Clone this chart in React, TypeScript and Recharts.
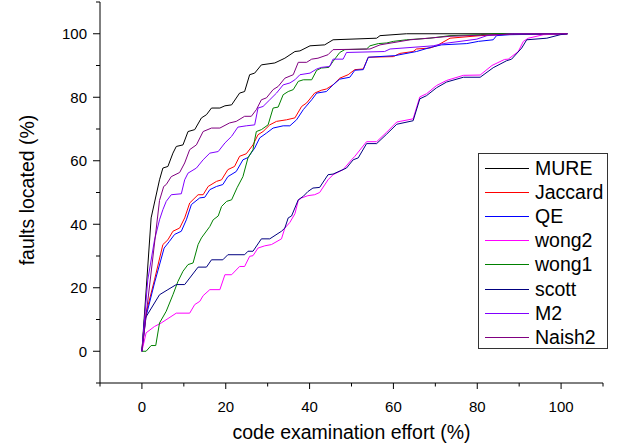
import React from 'react';
import { LineChart, Line, XAxis, YAxis, Legend, Label } from 'recharts';

const X_TICKS = [-10, 0, 10, 20, 30, 40, 50, 60, 70, 80, 90, 100, 110];
const Y_TICKS = [-10, 0, 10, 20, 30, 40, 50, 60, 70, 80, 90, 100, 110];
const LABELED = [0, 20, 40, 60, 80, 100];

const MURE_X = [0, 2.2, 4.2, 5.0, 6.2, 7.4, 8.2, 9.8, 11, 12.6, 14.2, 15.4, 16.6, 18.6, 19.8, 21.4, 23.3, 24.5, 25.7, 26.9, 28.5, 31.7, 34.1, 36.5, 37.7, 40.1, 43.6, 45.6, 56, 56.8, 63.1, 101.5];
const MURE_Y = [0, 42, 54, 57.7, 58.2, 62.4, 64.5, 65, 69.2, 69.8, 73.5, 74.5, 76.6, 76.6, 77.3, 77.6, 81.3, 81.8, 87.1, 87.6, 90.2, 90.8, 92.3, 94.4, 94.6, 96.2, 96.5, 98.1, 98.6, 99.4, 100, 100];

const JACCARD_X = [0, 1, 3, 5, 6.2, 7.4, 9, 10.2, 11.4, 13.4, 14.6, 15.8, 17.8, 19, 20.5, 22.1, 23.3, 24.9, 26.5, 27.7, 28.9, 30.5, 32.1, 34.5, 36.5, 38.1, 39.3, 41.2, 42.8, 44, 45.6, 47.2, 49.2, 50.8, 52.8, 54, 60, 61.5, 64.7, 65.5, 68.7, 70.3, 73.5, 80.7, 87, 101.5];
const JACCARD_Y = [0, 12, 22.5, 33.6, 35.1, 37.8, 38.8, 42, 46.7, 49.3, 49.3, 51.9, 53.5, 54, 57.2, 58.2, 61.4, 62.2, 65, 68.2, 69.2, 71.3, 72.4, 72.9, 73.5, 77.1, 78.2, 81.3, 82.2, 82.6, 83.9, 86, 87.1, 88.7, 88.9, 92.6, 92.8, 93.8, 94.4, 95.2, 95.5, 96.2, 98.6, 99.4, 99.8, 100];

const QE_X = [0, 1, 3, 5.3, 6.5, 7.8, 9.4, 10.6, 11.8, 13.8, 15, 16.2, 17.8, 19.3, 20.5, 22.5, 24.1, 25.3, 26.9, 28.1, 29.7, 31.3, 33.7, 35.3, 36.9, 38.5, 40.5, 41.7, 44, 45.6, 47.2, 49.6, 50.8, 52.8, 54, 60.3, 65.5, 69.1, 71.5, 77.5, 80.3, 83.8, 84.6, 87.8, 101.5];
const QE_Y = [0, 11, 21.5, 32.5, 34.5, 36.8, 37.8, 41.4, 46.2, 48.3, 48.5, 50.9, 51.9, 52.5, 55, 56.6, 60.3, 61, 64, 67.2, 68.7, 70.3, 71, 71, 72.9, 76.1, 79.2, 81.3, 81.8, 83.9, 85.7, 86.3, 88.5, 88.7, 92.6, 93.1, 94.4, 95.8, 96.5, 96.9, 97.6, 98.1, 99.4, 99.7, 100];

const WONG2_X = [0, 1, 3, 4.6, 8.2, 11.4, 12.6, 13.8, 14.6, 16.2, 18.6, 19.8, 21.4, 23.3, 24.5, 25.7, 26.5, 27.7, 29.3, 30.9, 33.3, 34.1, 35.3, 36.5, 37.3, 38.1, 39.6, 41.2, 42.4, 44.4, 45.6, 48, 50, 50.8, 53.6, 56, 58.4, 60.8, 64.7, 66.3, 67.9, 70.3, 72.7, 76.7, 80.7, 83.5, 86.5, 87.4, 89.8, 91, 92.2, 95.8, 101.5];
const WONG2_Y = [0, 5.8, 7.8, 8.9, 12, 12, 14.7, 15.7, 17.5, 19.4, 19.4, 24.1, 24.1, 26.7, 26.7, 29.9, 30.1, 32.5, 33.2, 33.6, 35.4, 38.8, 40.6, 43.3, 47.5, 48.3, 49, 49.3, 50, 54, 55.6, 57.2, 60.3, 61.4, 66, 66, 69, 72.2, 73.2, 80.1, 81.1, 83.7, 85.3, 86.9, 87, 90, 91.9, 92, 94.4, 97.6, 98.6, 99.7, 100];

const WONG1_X = [0, 1, 2.2, 3.3, 4.2, 5.8, 7.4, 8.6, 9.8, 11, 12.2, 13.4, 14.2, 16.2, 17, 18.2, 19, 20.2, 21.4, 22.7, 24.1, 25.3, 26.5, 26.9, 27.3, 28.5, 30.1, 31.3, 32.5, 33.7, 34.9, 36.1, 37.3, 38.5, 40.5, 41.7, 42.8, 44.6, 45.6, 47.2, 48.4, 53.6, 54.4, 56.4, 58.4, 60, 63.1, 68.7, 73.5, 80.7, 84, 101.5];
const WONG1_Y = [0, 0, 1.8, 1.8, 8.9, 12.6, 17.8, 22, 25.2, 27.3, 27.8, 33.6, 35.7, 39.3, 41.4, 42.6, 45.6, 47.2, 47.7, 51.5, 55, 60.9, 63.5, 66.6, 69.2, 69.8, 71.3, 76.6, 76.9, 80.8, 81.8, 82.4, 85, 85.5, 85.5, 88.5, 89.2, 89.4, 91.3, 94.1, 95, 95.2, 96.2, 96.9, 97.1, 97.6, 98.1, 98.6, 99.4, 99.7, 100, 100];

const SCOTT_X = [0, 0.6, 4.2, 6.2, 8.2, 10.2, 13.4, 15.4, 16.6, 19.3, 20.5, 24.5, 25.3, 26.5, 28.5, 30.5, 33.3, 34.1, 34.9, 35.7, 37.3, 38.5, 39.6, 40.8, 42.4, 44.4, 45.6, 48.8, 50.4, 51.6, 53.6, 56, 58.4, 60.8, 64.7, 66.3, 67.9, 70.3, 72.7, 76.7, 80.7, 83.8, 87, 88.2, 90.6, 91.8, 96.6, 99.8, 101.5];
const SCOTT_Y = [0, 10, 17.8, 19.4, 21, 21, 26.5, 26.5, 28.8, 28.8, 30.4, 30.4, 31.5, 31.5, 35.4, 35.4, 37.8, 38.8, 42, 42.6, 47.7, 48.8, 50.3, 51.4, 51.6, 55.6, 55.8, 57.7, 60.3, 60.9, 65.4, 65.4, 68.4, 71.5, 72.6, 79.5, 80.5, 83, 84.8, 86.3, 86.3, 89.3, 91.5, 92, 95.5, 98.1, 98.6, 99.7, 100];

const M2_X = [0, 1.4, 3, 4.2, 5, 5.8, 7, 9.4, 10.2, 11, 13, 14.6, 16.2, 18.2, 19.8, 21.4, 22.9, 24.9, 26.9, 27.7, 28.9, 30.5, 32.1, 33.7, 35.3, 36.5, 37.7, 40.1, 41.7, 42.8, 44.8, 45.6, 48, 48.8, 57.9, 59.2, 69.5, 71.9, 79.9, 82.3, 88.6, 101.5];
const M2_Y = [0, 22.5, 35, 41.4, 44.6, 47.2, 49.3, 49.6, 54, 56.1, 57.7, 60.3, 62.4, 62.9, 65.6, 67.7, 70.6, 71, 71.3, 76.6, 77.1, 79.2, 81.3, 83.9, 84.5, 85.5, 87.1, 87.6, 88.9, 89.4, 89.7, 92, 92, 94.1, 94.4, 95.2, 96.2, 96.9, 98.3, 99.4, 100, 100];

const NAISH2_X = [0, 4.2, 5.2, 5.8, 7, 9, 10.2, 11.4, 13, 14.6, 16.6, 18.6, 20.9, 22.5, 24.5, 26.1, 27.3, 28.5, 29.7, 31.3, 32.5, 34.1, 36.1, 37.3, 39.3, 40.5, 42, 44.4, 45.6, 54.4, 56.8, 64, 73.5, 88.6, 101.5];
const NAISH2_Y = [0, 47.5, 51.9, 52.5, 55, 56.3, 59.3, 63.5, 65, 69.2, 70.3, 70.3, 71.9, 72.4, 74, 74, 76.1, 79.2, 79.8, 82.4, 83.4, 86, 87.1, 91, 91, 92, 92.3, 93.4, 95, 95.2, 96.5, 98.1, 99.2, 99.9, 100];

const build = (xs: number[], ys: number[]) => xs.map((x, i) => ({ x, y: ys[i] }));

const SERIES = [
  { name: 'MURE', color: '#000000', data: build(MURE_X, MURE_Y) },
  { name: 'Jaccard', color: '#FF0000', data: build(JACCARD_X, JACCARD_Y) },
  { name: 'QE', color: '#0000FF', data: build(QE_X, QE_Y) },
  { name: 'wong2', color: '#FF00FF', data: build(WONG2_X, WONG2_Y) },
  { name: 'wong1', color: '#008000', data: build(WONG1_X, WONG1_Y) },
  { name: 'scott', color: '#000080', data: build(SCOTT_X, SCOTT_Y) },
  { name: 'M2', color: '#8000FF', data: build(M2_X, M2_Y) },
  { name: 'Naish2', color: '#800080', data: build(NAISH2_X, NAISH2_Y) },
];

const FONT = '"Liberation Sans", Arial, sans-serif';

const XTick = (props: any) => {
  const { x, y, payload } = props;
  const v = payload.value;
  const major = LABELED.includes(v);
  return (
    <g>
      <line x1={x} x2={x} y1={y} y2={y + (major ? 6 : 3.5)} stroke="#000" strokeWidth={1} />
      {major && (
        <text x={x} y={y + 28.5} textAnchor="middle" fontSize={15} fontFamily={FONT} fill="#000">
          {v}
        </text>
      )}
    </g>
  );
};

const YTick = (props: any) => {
  const { x, y, payload } = props;
  const v = payload.value;
  const major = LABELED.includes(v);
  return (
    <g>
      <line x1={x} x2={x - (major ? 7 : 4)} y1={y} y2={y} stroke="#000" strokeWidth={1} />
      {major && (
        <text x={x - 13} y={y + 5.3} textAnchor="end" fontSize={15} fontFamily={FONT} fill="#000">
          {v}
        </text>
      )}
    </g>
  );
};

const LegendBox = () => {
  return (
    <div
      style={{
        position: 'relative',
        width: 130,
        height: 196,
        border: '1px solid #333',
        boxSizing: 'border-box',
        background: '#fff',
        fontFamily: FONT,
      }}
    >
      {SERIES.map((s, i) => (
        <div
          key={s.name}
          style={{ position: 'absolute', left: 0, top: 2 + i * 24.1, height: 24, width: 128 }}
        >
          <svg width={50} height={24} style={{ position: 'absolute', left: 6, top: 0 }}>
            <line x1={0} x2={44} y1={12.5} y2={12.5} stroke={s.color} strokeWidth={1} />
          </svg>
          <span
            style={{
              position: 'absolute',
              left: 56,
              top: 0,
              fontSize: 19.5,
              lineHeight: '24px',
              color: '#000',
              whiteSpace: 'nowrap',
            }}
          >
            {s.name}
          </span>
        </div>
      ))}
    </div>
  );
};

export default function App() {
  return (
    <div style={{ position: 'absolute', left: 0, top: 0, width: 622, height: 448, background: '#fff' }}>
      <LineChart width={622} height={448} margin={{ top: 2, right: 19, bottom: 5, left: 0 }}>
        <XAxis
          dataKey="x"
          type="number"
          domain={[-10, 110]}
          ticks={X_TICKS}
          interval={0}
          allowDataOverflow
          height={60}
          tickSize={0}
          tickMargin={0}
          tickLine={false}
          tick={<XTick />}
          axisLine={{ stroke: '#000', strokeWidth: 1 }}
        >
          <Label
            content={(p: any) => {
              const vb = p.viewBox || {};
              return (
                <text
                  x={vb.x + vb.width / 2}
                  y={vb.y + 55.5}
                  textAnchor="middle"
                  fontSize={19.5}
                  fontFamily={FONT}
                  fill="#000"
                >
                  code examination effort (%)
                </text>
              );
            }}
          />
        </XAxis>
        <YAxis
          type="number"
          domain={[-10, 110]}
          ticks={Y_TICKS}
          interval={0}
          allowDataOverflow
          width={100}
          tickSize={0}
          tickMargin={0}
          tickLine={false}
          tick={<YTick />}
          axisLine={{ stroke: '#000', strokeWidth: 1 }}
        >
          <Label
            content={() => {
              const cx = 27;
              const cy = 190;
              return (
                <text
                  x={cx}
                  y={cy}
                  transform={`rotate(-90 ${cx} ${cy})`}
                  textAnchor="middle"
                  dominantBaseline="central"
                  fontSize={19.5}
                  fontFamily={FONT}
                  fill="#000"
                >
                  faults located (%)
                </text>
              );
            }}
          />
        </YAxis>
        <Legend
          layout="horizontal"
          verticalAlign="middle"
          align="center"
          wrapperStyle={{ left: 478, top: 153, width: 130, height: 196 }}
          content={<LegendBox />}
        />
        {SERIES.map((s) => (
          <Line
            key={s.name}
            data={s.data}
            dataKey="y"
            name={s.name}
            type="linear"
            stroke={s.color}
            strokeWidth={1}
            dot={false}
            activeDot={false}
            isAnimationActive={false}
          />
        ))}
      </LineChart>
    </div>
  );
}
